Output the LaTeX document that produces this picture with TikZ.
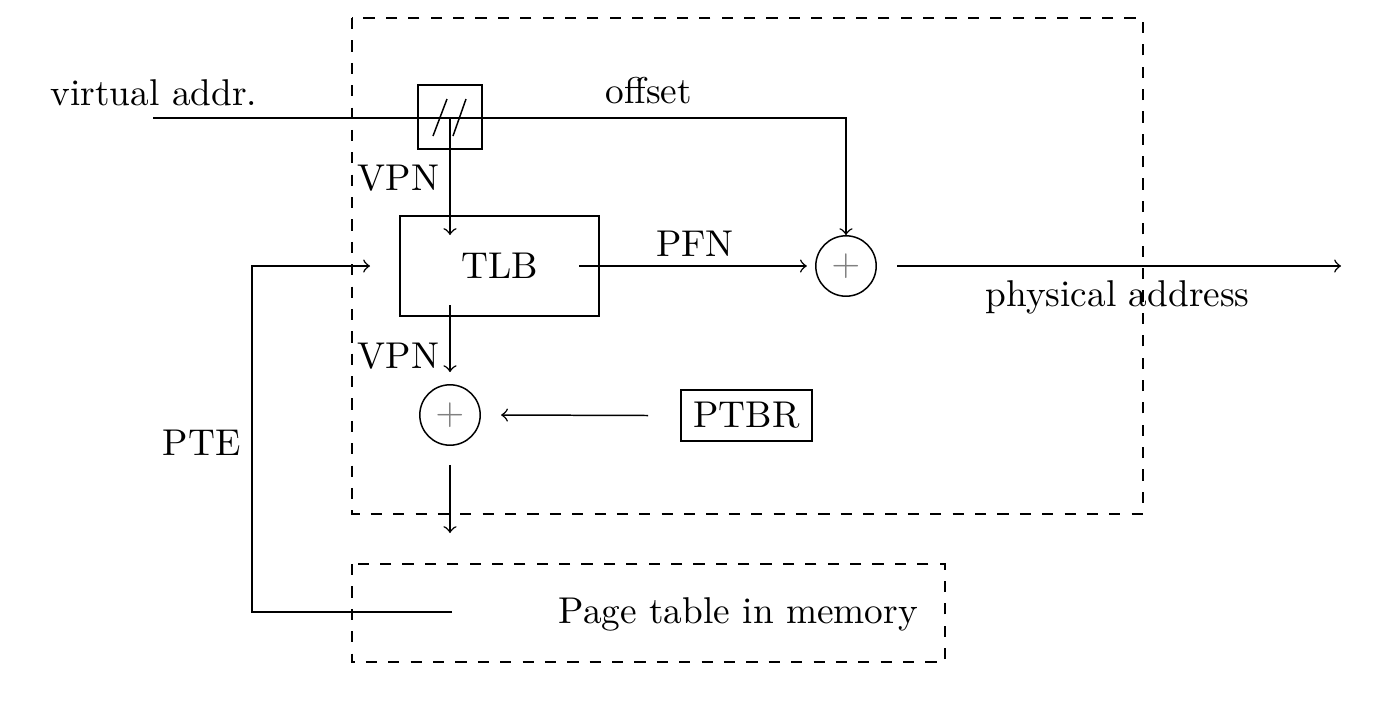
\documentclass[tikz,border=0pt]{standalone}
\begin{document}
\begin{tikzpicture}[x=0.2681pt,y=-0.2681pt,
  lbl/.style={inner sep=0pt},
  adder/.style={circle,draw,minimum size=16.2pt,inner sep=0pt,text=gray},
  >=to]
\useasboundingbox (0,0) rectangle (1392,710);
% dashed regions
\draw[dashed] (352,18) rectangle (1143,514);
\draw[dashed] (352,564) rectangle (945,662);
% texts
\node[lbl,anchor=base west] (va) at (50,105) {virtual addr.};
\node[lbl,anchor=base west] (off) at (605,103) {offset};
\node[lbl,anchor=base west] (vpn1) at (357,190) {VPN};
\node[lbl,anchor=base west] (vpn2) at (357,368) {VPN};
\node[lbl,anchor=base] (pfn) at (695,256) {PFN};
\node[lbl,anchor=base west] (phys) at (985,306) {physical address};
\node[lbl,anchor=base west] (pte) at (162,455) {PTE};
\node[lbl,anchor=base west] (ptm) at (558,623) {Page table in memory};
% shapes
\node[draw,minimum size=17.2pt,inner sep=0pt] (split) at (450,117) {};
\draw (433,136) -- (447,99);
\draw (453,136) -- (466,99);
\node[draw,minimum width=53.35pt,minimum height=26.8pt] (tlb) at (499.5,266) {TLB};
\node[adder] (add1) at (846,266) {$+$};
\node[adder] (add2) at (450,415) {$+$};
\node[draw] (ptbr) at (746.5,415.5) {PTBR};
% coordinates
\coordinate (vin) at (153,118);
\coordinate (tlbT) at (450,235);
\coordinate (tlbL) at (370,266);
\coordinate (tlbR) at (579,266);
\coordinate (tlbB) at (450,305);
\coordinate (out) at (1341,266);
\coordinate (memin) at (450,533);
\coordinate (ptstart) at (452,612);
\coordinate (ptecorner) at (252,266);
% connectors
\draw[->] (vin) -| (add1.north);
\draw[->] (split.center) -- (tlbT);
\draw[->] (tlbR) -- ([xshift=-2.2pt]add1.west);
\draw[->] ([xshift=5.4pt]add1.east) -- (out);
\draw[->] (tlbB) -- ([yshift=3.2pt]add2.north);
\draw[->] ([xshift=-8.6pt]ptbr.west) -- ([xshift=5.4pt]add2.east);
\draw[->] ([yshift=-5.1pt]add2.south) -- (memin);
\draw[->] (ptstart) -| (ptecorner) -- (tlbL);
\end{tikzpicture}
\end{document}
